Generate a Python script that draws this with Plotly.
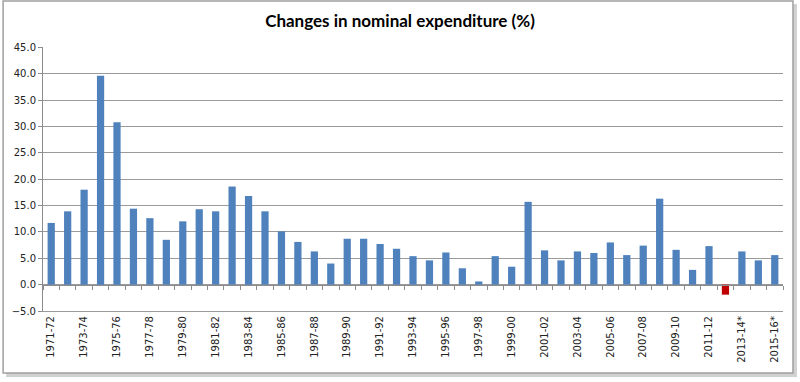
import plotly.graph_objects as go

years = ["1971-72", "1972-73", "1973-74", "1974-75", "1975-76", "1976-77", "1977-78", "1978-79",
         "1979-80", "1980-81", "1981-82", "1982-83", "1983-84", "1984-85", "1985-86", "1986-87",
         "1987-88", "1988-89", "1989-90", "1990-91", "1991-92", "1992-93", "1993-94", "1994-95",
         "1995-96", "1996-97", "1997-98", "1998-99", "1999-00", "2000-01", "2001-02", "2002-03",
         "2003-04", "2004-05", "2005-06", "2006-07", "2007-08", "2008-09", "2009-10", "2010-11",
         "2011-12", "2012-13", "2013-14*", "2014-15*", "2015-16*"]
changes = [11.7, 13.9, 18.0, 39.6, 30.8, 14.4, 12.6, 8.5,
           12.0, 14.3, 13.9, 18.6, 16.8, 13.9, 10.1, 8.1,
           6.3, 4.0, 8.7, 8.7, 7.7, 6.8, 5.4, 4.6,
           6.1, 3.1, 0.6, 5.4, 3.4, 15.7, 6.5, 4.6,
           6.3, 6.0, 8.0, 5.6, 7.4, 16.3, 6.6, 2.8,
           7.3, -1.9, 6.3, 4.6, 5.6]
y_ticks = [-5, 0, 5, 10, 15, 20, 25, 30, 35, 40, 45]

BLUE = "#4F81BD"
RED = "#C00000"
GRID = "#9a9a9a"
colors = [RED if v < 0 else BLUE for v in changes]

fig = go.Figure()
fig.add_trace(go.Bar(x=years, y=changes, marker=dict(color=colors, line=dict(width=0)),
                     showlegend=False, hoverinfo="x+y"))
# invisible trace carrying the zero-line axis with category ticks
fig.add_trace(go.Scatter(x=years, y=[0] * len(years), xaxis="x2", mode="markers",
                         marker=dict(opacity=0), showlegend=False, hoverinfo="skip"))

L, R, T, B = 41, 17, 47, 71
W, H = 800, 382
pw, ph = W - L - R, H - T - B

def px(x):
    return (x - L) / pw

def py(y):
    return (H - B - y) / ph

y_lo, y_hi = y_ticks[0], 45.06
zero_pos = (0 - y_lo) / (y_hi - y_lo)

fig.update_layout(
    width=W, height=H,
    margin=dict(l=L, r=R, t=T, b=B, pad=0),
    paper_bgcolor="white", plot_bgcolor="white",
    bargap=0.56,
    title=dict(text="<b>Changes in nominal expenditure (%)</b>", x=0.5, xanchor="center",
               y=1 - 21 / H, yanchor="middle",
               font=dict(family="Lato, Open Sans, sans-serif", size=17, color="#000")),
    font=dict(family="DejaVu Sans, Verdana, sans-serif", size=10, color="#222"),
    xaxis=dict(type="category", categoryorder="array", categoryarray=years,
               tickmode="array", tickvals=years[::2], ticktext=years[::2],
               tickangle=-90, showgrid=False, showline=True, linecolor=GRID, linewidth=1,
               ticks="",
               range=[-0.5, len(years) - 0.5], fixedrange=True,
               tickfont=dict(family="DejaVu Sans, Verdana, sans-serif", size=10, color="#222")),
    xaxis2=dict(type="category", categoryorder="array", categoryarray=years,
                overlaying="x", matches="x", anchor="free", position=zero_pos,
                showline=True, linecolor="#8c8c8c", linewidth=1,
                ticks="outside", ticklen=4, tickcolor="#8c8c8c", tickson="boundaries",
                showticklabels=False, showgrid=False, side="bottom"),
    yaxis=dict(range=[y_lo, y_hi], tickmode="array", tickvals=y_ticks, tickformat=".1f",
               showgrid=True, gridcolor=GRID, gridwidth=1, zeroline=False,
               showline=True, linecolor="#8c8c8c", linewidth=1,
               ticks="outside", ticklen=4, tickcolor="#8c8c8c", fixedrange=True,
               tickfont=dict(family="DejaVu Sans, Verdana, sans-serif", size=10, color="#222")),
    shapes=[
        # drop shadow
        dict(type="rect", xref="paper", yref="paper",
             x0=px(4), x1=px(797), y0=py(377), y1=py(4),
             line=dict(width=0), fillcolor="rgba(0,0,0,0.18)", layer="below"),
        dict(type="rect", xref="paper", yref="paper",
             x0=px(1), x1=px(793), y0=py(373), y1=py(1),
             line=dict(color="#a0a0a0", width=1.5), fillcolor="white", layer="below"),
    ],
)

fig.write_html("out.html", config={"displayModeBar": False},
               post_script="document.body.style.margin='0';document.body.style.padding='0';")
